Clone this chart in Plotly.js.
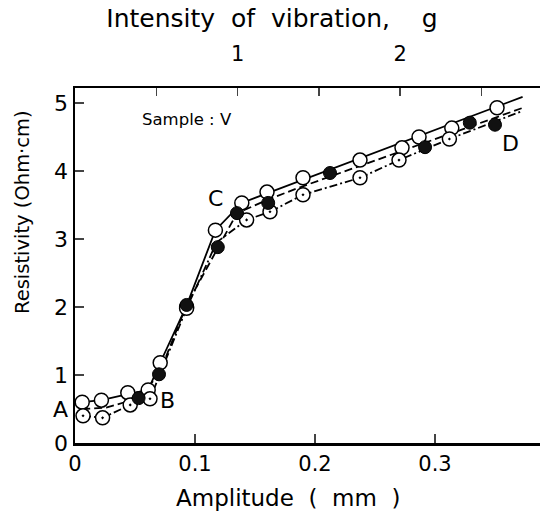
<!DOCTYPE html>
<html><head><meta charset="utf-8">
<script src="https://cdn.plot.ly/plotly-3.0.1.min.js"></script>
<style>html,body{margin:0;padding:0;background:#fff}</style>
</head><body>
<div id="chart" style="width:540px;height:513px"></div>
<script>
// Series 1: open circles, solid line
const s1X = [0.006, 0.022, 0.044, 0.061, 0.071, 0.093, 0.117, 0.139, 0.160, 0.190, 0.2375, 0.2725, 0.2867, 0.314, 0.3517];
const s1Y = [0.60, 0.63, 0.74, 0.78, 1.18, 2.00, 3.13, 3.53, 3.69, 3.90, 4.16, 4.34, 4.50, 4.63, 4.93];
const s1LineX = [0.006, 0.022, 0.044, 0.061, 0.071, 0.093, 0.117, 0.139, 0.373];
const s1LineY = [0.60, 0.63, 0.72, 0.78, 1.18, 2.02, 3.13, 3.53, 5.09];
// Series 2: filled circles, dashed line
const s2X = [0.053, 0.070, 0.093, 0.119, 0.135, 0.161, 0.2125, 0.2917, 0.329, 0.350];
const s2Y = [0.66, 1.01, 2.03, 2.88, 3.38, 3.53, 3.97, 4.35, 4.71, 4.68];
const s2LineX = [0.006, 0.026, 0.053, 0.070, 0.093, 0.119, 0.135, 0.161, 0.1875, 0.375];
const s2LineY = [0.50, 0.52, 0.66, 1.01, 2.03, 2.88, 3.38, 3.58, 3.76, 4.94];
// Series 3: dotted open circles, dash-dot line
const s3X = [0.0067, 0.023, 0.046, 0.0625, 0.093, 0.143, 0.1625, 0.190, 0.2375, 0.270, 0.312];
const s3Y = [0.40, 0.37, 0.56, 0.65, 1.98, 3.28, 3.40, 3.65, 3.90, 4.16, 4.47];
const s3LineX = [0.0067, 0.023, 0.046, 0.0625, 0.093, 0.118, 0.143, 0.1625, 0.190, 0.2375, 0.270, 0.312, 0.371];
const s3LineY = [0.40, 0.37, 0.56, 0.65, 1.98, 2.95, 3.28, 3.40, 3.65, 3.90, 4.16, 4.47, 4.87];
// axes
const xTickVals = [0, 0.1, 0.2, 0.3];
const xTickText = ['0', '0.1', '0.2', '0.3'];
const yTickVals = [0, 1, 2, 3, 4, 5];
const gTickVals = [0.5, 1, 1.5, 2, 2.5];
const gTickText = ['', '1', '', '2', ''];
const mmPerG = 0.1355;
const xMax = 0.3875, yMax = 5.22;
const topTitle = 'Intensity  of  vibration,    g';
const xTitle = 'Amplitude  (  mm  )';
const yTitle = 'Resistivity (Ohm·cm)';

const FONT = 'DejaVu Sans, sans-serif';
const nb = s => s.replace(/ /g, '\u00a0');
const lw = 1.8;
const traces = [
  {x: s1LineX, y: s1LineY, mode: 'lines', line: {color: '#000', width: lw, dash: 'solid'}, hoverinfo: 'skip'},
  {x: s2LineX, y: s2LineY, mode: 'lines', line: {color: '#000', width: lw, dash: '8px,4px'}, hoverinfo: 'skip'},
  {x: s3LineX, y: s3LineY, mode: 'lines', line: {color: '#000', width: lw, dash: '8px,3px,2px,3px'}, hoverinfo: 'skip'},
  {x: s1X, y: s1Y, mode: 'markers', marker: {symbol: 'circle', size: 14, color: '#fff', line: {color: '#000', width: 1.5}}},
  {x: s3X, y: s3Y, mode: 'markers', marker: {symbol: 'circle-dot', size: 14, color: '#fff', line: {color: '#000', width: 1.5}}},
  {x: s2X, y: s2Y, mode: 'markers', marker: {symbol: 'circle', size: 13, color: '#111', line: {color: '#000', width: 1}}},
  {x: [0], y: [0], xaxis: 'x2', mode: 'markers', marker: {opacity: 0}, hoverinfo: 'skip'}
];
const ann = (x, y, t, s, xref, yref, extra) => Object.assign({x, y, xref: xref || 'x', yref: yref || 'y', text: t, showarrow: false,
  xanchor: 'center', yanchor: 'middle', font: {family: FONT, size: s || 22, color: '#000'}}, extra || {});
const layout = {
  width: 540, height: 513,
  margin: {l: 75, r: 0, t: 88, b: 70},
  paper_bgcolor: '#fff', plot_bgcolor: '#fff',
  showlegend: false,
  font: {family: FONT, color: '#000'},
  title: {text: nb(topTitle), x: 272 / 540, xanchor: 'center', xref: 'container',
    y: 1 - 18 / 513, yanchor: 'middle', yref: 'container', font: {size: 25, family: FONT, color: '#000'}},
  xaxis: {range: [0, xMax], tickvals: xTickVals, ticktext: xTickText, ticks: 'inside', ticklen: 9, tickwidth: 1.5,
    showline: true, linewidth: 2.5, linecolor: '#000', showgrid: false, zeroline: false, mirror: false,
    tickfont: {size: 21, family: FONT}},
  xaxis2: {overlaying: 'x', side: 'top', range: [0, xMax / mmPerG], tickvals: gTickVals, ticktext: gTickText,
    ticks: 'inside', ticklen: 8, tickwidth: 1.5, showline: true, linewidth: 2.5, linecolor: '#000', showgrid: false, zeroline: false,
    ticklabelstandoff: 16, tickfont: {size: 21, family: FONT}},
  yaxis: {range: [0, yMax], tickvals: yTickVals, ticks: 'inside', ticklen: 9, tickwidth: 1.5,
    showline: true, linewidth: 2.5, linecolor: '#000', showgrid: false, zeroline: false,
    tickfont: {size: 22, family: FONT}},
  annotations: [
    ann((288 - 75) / 465, (443 - 498) / 355, nb(xTitle), 23, 'paper', 'paper'),
    ann((22 - 75) / 465, (443 - 212) / 355, nb(yTitle), 19.5, 'paper', 'paper', {textangle: -90}),
    ann((60 - 75) / 465, 0.49, 'A', 22, 'paper'),
    ann(0.077, 0.62, 'B'),
    ann(0.117, 3.60, 'C'),
    ann(0.3625, 4.41, 'D'),
    ann(0.093, 4.75, 'Sample : Ⅴ', 16.5)
  ]
};
Plotly.newPlot('chart', traces, layout, {staticPlot: true, displayModeBar: false});
</script>
</body></html>
